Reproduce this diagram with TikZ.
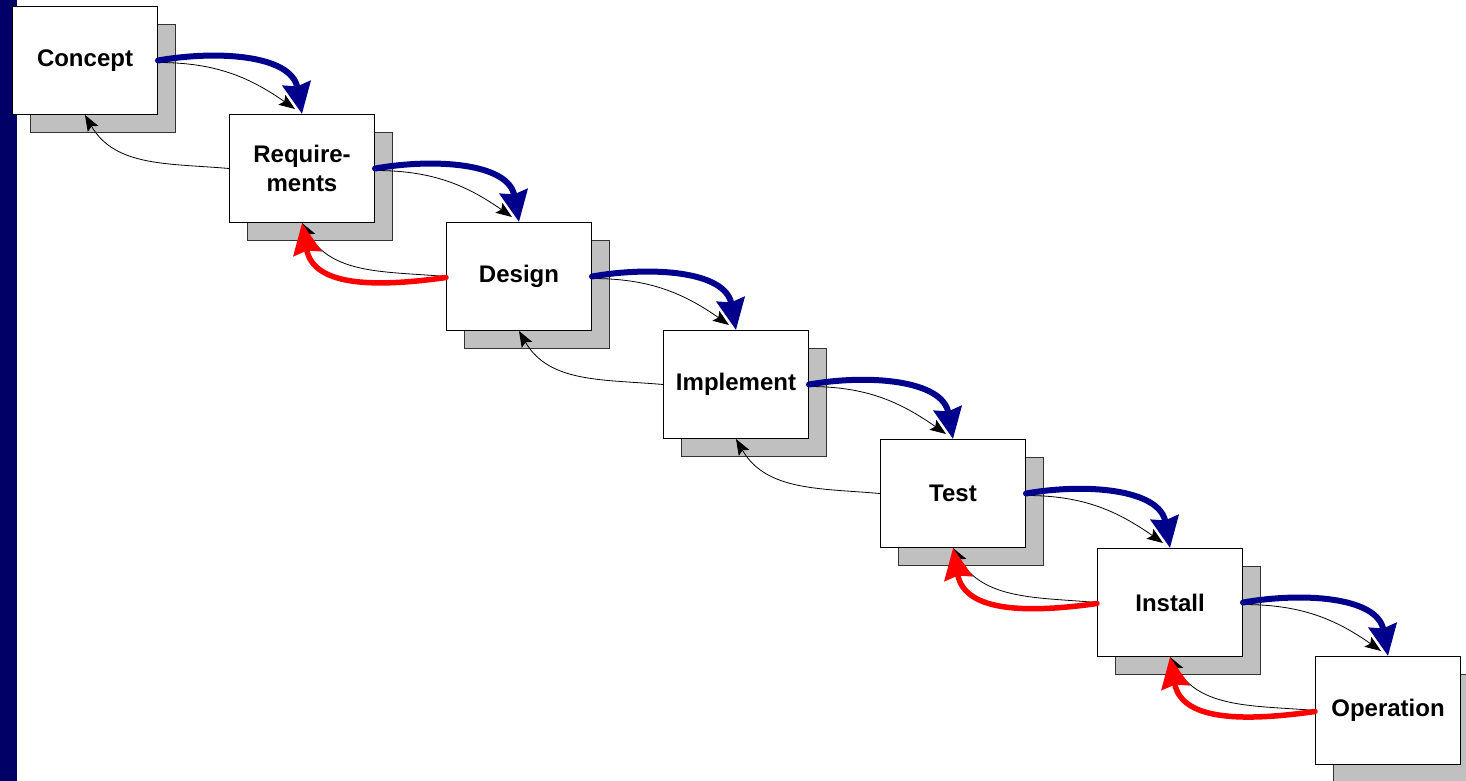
\documentclass[tikz,border=0pt]{standalone}
\usepackage{fontspec}
\setmainfont{Liberation Sans}
\usetikzlibrary{
    arrows.meta,
    positioning,
    shadows
}
\definecolor{barnavy}{RGB}{0,0,102}
\definecolor{flownavy}{RGB}{0,0,140}
\definecolor{reworkred}{RGB}{255,0,0}
\definecolor{shadowgray}{RGB}{192,192,192}
\tikzset{
    stagebox/.style={
        draw=black, line width=1pt, fill=white,
        minimum width=145pt, minimum height=108pt,
        anchor=north west, align=center,
        font=\fontsize{24}{29}\selectfont\bfseries,
        general shadow={shadow xshift=18pt, shadow yshift=-18pt,
            fill=shadowgray, draw=black!80, line width=1pt},
    },
    fwdarrow/.style={
        draw=flownavy, line width=6pt, line cap=round,
        -{Stealth[length=31pt, width=28pt, inset=3pt]},
    },
    backarrow/.style={
        draw=black, line width=0.8pt,
        -{Stealth[length=16pt, width=12pt, inset=3pt]},
    },
    reworkarrow/.style={
        draw=reworkred, line width=5.5pt, line cap=round,
        -{Stealth[length=31pt, width=28pt, inset=3pt]},
    },
}

\begin{document}
\begin{tikzpicture}[x=1pt, y=-1pt]
    \useasboundingbox (0,0) rectangle (1466,781);
    % side bar
    \fill[barnavy] (0,0) rectangle (17,781);

    %% Stages
    \node[stagebox] (concept)   at (12,6)     {Concept};
    \node[stagebox] (reqs)      at (229,114)  {Require-\\ments};
    \node[stagebox] (design)    at (446,222)  {Design};
    \node[stagebox] (implement) at (663,330)  {Implement};
    \node[stagebox] (test)      at (880,439)  {Test};
    \node[stagebox] (install)   at (1097,548) {Install};
    \node[stagebox] (operation) at (1315,656) {Operation};

    %% Forward flow
    % thin lines
    \draw[backarrow] ([yshift=-2pt]concept.east)   to[out=0,in=145] ([xshift=-7pt,yshift=5pt]reqs.north);
    \draw[backarrow] ([yshift=-2pt]reqs.east)      to[out=0,in=145] ([xshift=-7pt,yshift=5pt]design.north);
    \draw[backarrow] ([yshift=-2pt]design.east)    to[out=0,in=145] ([xshift=-7pt,yshift=5pt]implement.north);
    \draw[backarrow] ([yshift=-2pt]implement.east) to[out=0,in=145] ([xshift=-7pt,yshift=5pt]test.north);
    \draw[backarrow] ([yshift=-2pt]test.east)      to[out=0,in=145] ([xshift=-7pt,yshift=5pt]install.north);
    \draw[backarrow] ([yshift=-2pt]install.east)   to[out=0,in=145] ([xshift=-7pt,yshift=5pt]operation.north);
    % thick lines
    \draw[fwdarrow] (concept.east)   to[out=10,in=100] (reqs.north);
    \draw[fwdarrow] (reqs.east)      to[out=10,in=100] (design.north);
    \draw[fwdarrow] (design.east)    to[out=10,in=100] (implement.north);
    \draw[fwdarrow] (implement.east) to[out=10,in=100] (test.north);
    \draw[fwdarrow] (test.east)      to[out=10,in=100] (install.north);
    \draw[fwdarrow] (install.east)   to[out=10,in=100] (operation.north);

    %% Feedback
    \draw[backarrow] (reqs.west)      to[out=175,in=-60] (concept.south);
    \draw[backarrow] (design.west)    to[out=175,in=-60] (reqs.south);
    \draw[backarrow] (implement.west) to[out=175,in=-60] (design.south);
    \draw[backarrow] (test.west)      to[out=175,in=-60] (implement.south);
    \draw[backarrow] (install.west)   to[out=175,in=-60] (test.south);
    \draw[backarrow] (operation.west) to[out=175,in=-60] (install.south);
    % rework
    \draw[reworkarrow] ([yshift=-1pt]design.west)    to[out=188,in=-80,looseness=1.1] (reqs.south);
    \draw[reworkarrow] ([yshift=-1pt]install.west)   to[out=188,in=-80,looseness=1.1] (test.south);
    \draw[reworkarrow] ([yshift=-1pt]operation.west) to[out=188,in=-80,looseness=1.1] (install.south);
\end{tikzpicture}
\end{document}
